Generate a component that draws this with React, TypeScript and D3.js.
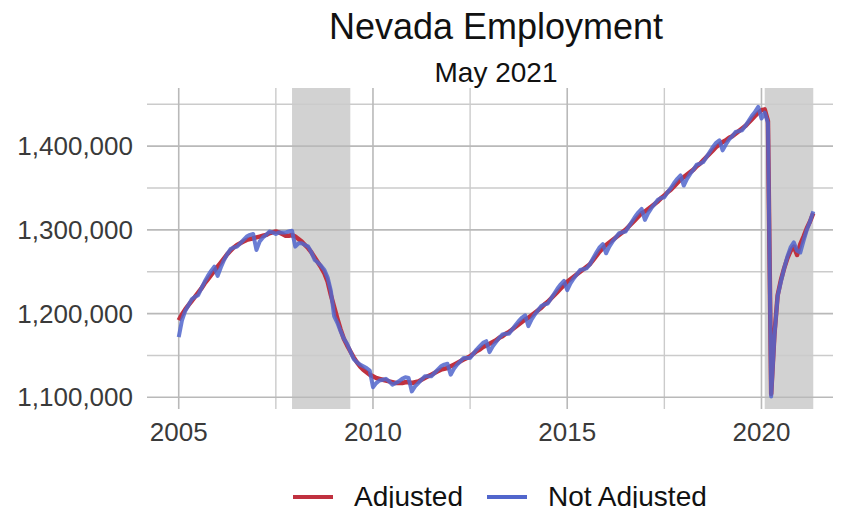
import React, { useRef, useEffect } from 'react';
import * as d3 from 'd3';

// Monthly values, Jan 2005 - May 2021 (thousands of jobs)
const ADJUSTED: number[] = [
  1192, 1199, 1205, 1210, 1215, 1220, 1225, 1230, 1236, 1241, 1246, 1251,
  1256, 1261, 1266, 1271, 1275, 1279, 1282, 1284, 1286, 1288, 1289, 1290,
  1291, 1292, 1293, 1294, 1296, 1297, 1298, 1297, 1295, 1293, 1293, 1294,
  1292, 1289, 1286, 1282, 1278, 1273, 1267, 1261, 1255, 1248, 1238, 1222,
  1208, 1194, 1181, 1170, 1162, 1155, 1148, 1142, 1137, 1133, 1130, 1127,
  1125, 1123, 1122, 1121, 1120, 1119, 1118, 1117, 1117, 1117, 1118, 1118,
  1117, 1118, 1119, 1121, 1123, 1125, 1127, 1129, 1131, 1133, 1134, 1135,
  1137, 1139, 1141, 1143, 1145, 1147, 1149, 1152, 1155, 1157, 1160, 1162,
  1164, 1166, 1168, 1171, 1173, 1176, 1178, 1181, 1184, 1187, 1190, 1193,
  1195, 1198, 1201, 1204, 1207, 1211, 1214, 1218, 1222, 1226, 1230, 1234,
  1238, 1241, 1244, 1247, 1250, 1253, 1256, 1259, 1264, 1269, 1274, 1278,
  1282, 1285, 1288, 1291, 1294, 1297, 1300, 1304, 1308, 1312, 1316, 1320,
  1322, 1325, 1328, 1331, 1334, 1338, 1341, 1345, 1348, 1352, 1356, 1360,
  1363, 1366, 1369, 1372, 1376, 1379, 1383, 1387, 1391, 1395, 1399, 1402,
  1405, 1407, 1410, 1412, 1415, 1418, 1421, 1424, 1428, 1432, 1436, 1440,
  1443, 1444, 1430, 1104, 1175, 1222, 1240, 1254, 1266, 1275, 1280, 1270,
  1283, 1292, 1302, 1310, 1320,
];

const NOT_ADJUSTED: number[] = [
  1172, 1192, 1203, 1210, 1217, 1220, 1222, 1230, 1238, 1245, 1251, 1256,
  1245, 1255, 1264, 1271, 1277, 1279, 1280, 1284, 1288, 1292, 1294, 1295,
  1276, 1286, 1291, 1294, 1298, 1297, 1295, 1297, 1297, 1297, 1298, 1299,
  1280, 1284, 1284, 1282, 1280, 1273, 1264, 1261, 1257, 1252, 1243, 1227,
  1197, 1189, 1179, 1170, 1164, 1155, 1146, 1142, 1139, 1137, 1135, 1132,
  1112, 1117, 1120, 1121, 1122, 1119, 1115, 1117, 1119, 1122, 1124, 1123,
  1107, 1113, 1117, 1121, 1125, 1125, 1125, 1129, 1133, 1137, 1139, 1140,
  1127, 1134, 1139, 1143, 1147, 1147, 1147, 1152, 1157, 1161, 1165, 1167,
  1154, 1161, 1166, 1171, 1175, 1176, 1176, 1181, 1186, 1191, 1195, 1198,
  1185, 1193, 1199, 1204, 1209, 1211, 1212, 1218, 1224, 1230, 1235, 1239,
  1228, 1236, 1242, 1247, 1252, 1253, 1254, 1259, 1266, 1273, 1279, 1283,
  1272, 1280, 1286, 1291, 1296, 1297, 1298, 1304, 1310, 1316, 1321, 1325,
  1312, 1320, 1326, 1331, 1336, 1338, 1339, 1345, 1350, 1356, 1361, 1365,
  1353, 1361, 1367, 1372, 1378, 1379, 1381, 1387, 1393, 1399, 1404, 1407,
  1395, 1402, 1408, 1412, 1417, 1418, 1419, 1424, 1430, 1436, 1441, 1447,
  1433, 1440, 1428, 1101, 1173, 1221, 1238, 1254, 1268, 1279, 1285, 1275,
  1273, 1287, 1300, 1310, 1322,
];

const START_YEAR = 2005;
const RECESSIONS: [number, number][] = [
  [2007 + 11 / 12, 2009 + 5 / 12],
  [2020 + 1 / 12, 2021 + 4 / 12],
];
const Y_MAJOR = [1100000, 1200000, 1300000, 1400000];
const Y_MINOR = [1150000, 1250000, 1350000, 1450000];
const X_MAJOR = [2005, 2010, 2015, 2020];
const X_MINOR = [2007.5, 2012.5, 2017.5];

const RED = '#c0313f';
const BLUE = '#5166cc';
const FONT = 'Liberation Sans, Arial, sans-serif';

const EmploymentChart: React.FC = () => {
  const svgRef = useRef<SVGSVGElement>(null);

  useEffect(() => {
    if (!svgRef.current) return;
    const svg = d3.select(svgRef.current);
    svg.selectAll('*').remove();

    const left = 147, right = 845, top = 88, bottom = 409;
    const t = (i: number) => START_YEAR + i / 12;
    const last = t(ADJUSTED.length - 1);
    const pad = (last - START_YEAR) * 0.05;

    const x = d3.scaleLinear().domain([START_YEAR - pad, last + pad]).range([left, right]);
    const y = d3.scaleLinear().domain([1086000, 1469500]).range([bottom, top]);

    // recession shading
    svg.append('g')
      .selectAll('rect')
      .data(RECESSIONS)
      .join('rect')
      .attr('x', d => x(d[0]))
      .attr('width', d => x(d[1]) - x(d[0]))
      .attr('y', top)
      .attr('height', bottom - top)
      .attr('fill', '#d2d2d2');

    // grid
    const grid = svg.append('g');
    grid.selectAll('.hmin').data(Y_MINOR).join('line')
      .attr('x1', left).attr('x2', right)
      .attr('y1', d => y(d)).attr('y2', d => y(d))
      .attr('stroke', '#cbcbcb').attr('stroke-width', 1.4);
    grid.selectAll('.vmin').data(X_MINOR).join('line')
      .attr('x1', d => x(d)).attr('x2', d => x(d))
      .attr('y1', top).attr('y2', bottom)
      .attr('stroke', '#cbcbcb').attr('stroke-width', 1.4);
    grid.selectAll('.hmaj').data(Y_MAJOR).join('line')
      .attr('x1', left).attr('x2', right)
      .attr('y1', d => y(d)).attr('y2', d => y(d))
      .attr('stroke', '#b9b9b9').attr('stroke-width', 1.6);
    grid.selectAll('.vmaj').data(X_MAJOR).join('line')
      .attr('x1', d => x(d)).attr('x2', d => x(d))
      .attr('y1', top).attr('y2', bottom)
      .attr('stroke', '#b9b9b9').attr('stroke-width', 1.6);

    // lines
    const line = d3.line<number>()
      .x((_, i) => x(t(i)))
      .y(d => y(d * 1000));
    svg.append('path').datum(ADJUSTED)
      .attr('d', line).attr('fill', 'none')
      .attr('stroke', RED).attr('stroke-width', 4.5).attr('stroke-linejoin', 'round');
    svg.append('path').datum(NOT_ADJUSTED)
      .attr('d', line).attr('fill', 'none')
      .attr('stroke', BLUE).attr('stroke-width', 4).attr('stroke-linejoin', 'round')
      .attr('opacity', 0.85);

    // y labels
    svg.append('g').selectAll('text').data(Y_MAJOR).join('text')
      .attr('x', 133).attr('y', d => y(d)).attr('dy', '0.35em')
      .attr('text-anchor', 'end')
      .attr('font-family', FONT).attr('font-size', 26).attr('fill', '#3a3a3a')
      .text(d => d3.format(',')(d));

    // x labels
    svg.append('g').selectAll('text').data(X_MAJOR).join('text')
      .attr('x', d => x(d)).attr('y', 441)
      .attr('text-anchor', 'middle')
      .attr('font-family', FONT).attr('font-size', 26).attr('fill', '#3a3a3a')
      .text(d => d);

    // titles
    const cx = (left + right) / 2;
    svg.append('text').attr('x', cx).attr('y', 39).attr('text-anchor', 'middle')
      .attr('font-family', FONT).attr('font-size', 36).attr('fill', '#111')
      .text('Nevada Employment');
    svg.append('text').attr('x', cx).attr('y', 82).attr('text-anchor', 'middle')
      .attr('font-family', FONT).attr('font-size', 28).attr('fill', '#111')
      .text('May 2021');

    // legend
    const legend = [
      { label: 'Adjusted', color: RED, x: 293 },
      { label: 'Not Adjusted', color: BLUE, x: 487 },
    ];
    const lg = svg.append('g').selectAll('g').data(legend).join('g')
      .attr('transform', d => `translate(${d.x},497)`);
    lg.append('line').attr('x1', 0).attr('x2', 40).attr('y1', 0).attr('y2', 0)
      .attr('stroke', d => d.color).attr('stroke-width', 4);
    lg.append('text').attr('x', 61).attr('y', 0).attr('dy', '0.32em')
      .attr('font-family', FONT).attr('font-size', 28).attr('fill', '#111')
      .text(d => d.label);
  }, []);

  return <svg ref={svgRef} width={841} height={516} style={{ display: 'block' }} />;
};

export default function App() {
  return (
    <div style={{ margin: -8, width: 841, height: 516, background: '#fff', overflow: 'hidden' }}>
      <EmploymentChart />
    </div>
  );
}
